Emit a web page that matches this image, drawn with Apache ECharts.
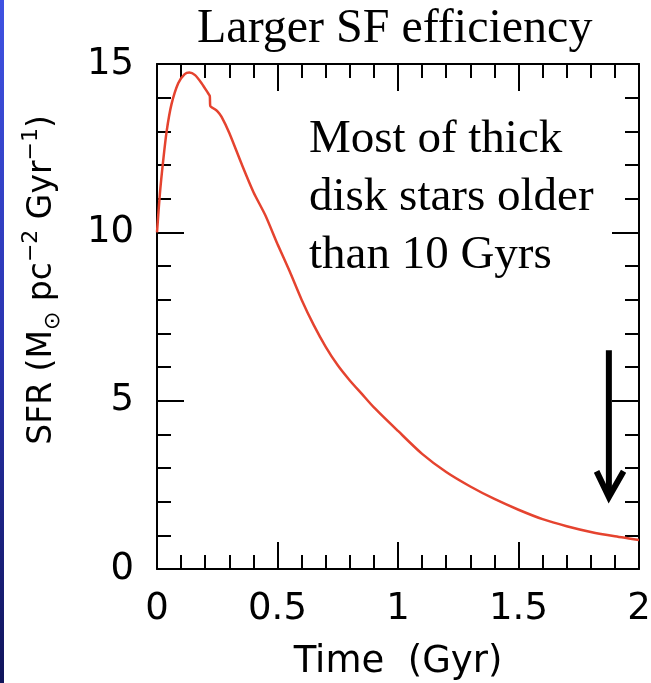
<!DOCTYPE html>
<html>
<head>
<meta charset="utf-8">
<script src="https://cdn.jsdelivr.net/npm/echarts@6/dist/echarts.min.js"></script>
<style>
html, body { margin: 0; padding: 0; background: #fff; }
#main { width: 651px; height: 683px; }
</style>
</head>
<body>
<div id="main"></div>
<script>
// star formation rate vs time
var timeGyr = [0, 0.012, 0.026, 0.04, 0.06, 0.088, 0.115, 0.134, 0.158, 0.185, 0.212, 0.219,
  0.221, 0.235, 0.25, 0.268, 0.3, 0.35, 0.4, 0.45, 0.5, 0.55, 0.6, 0.65, 0.7, 0.75, 0.8,
  0.85, 0.9, 1.0, 1.1, 1.2, 1.3, 1.4, 1.5, 1.6, 1.7, 1.8, 1.9, 2.0];
var sfr = [10.0, 11.15, 12.15, 13.0, 13.8, 14.43, 14.70, 14.75, 14.67, 14.43, 14.13, 14.05,
  13.75, 13.68, 13.6, 13.43, 12.95, 12.05, 11.2, 10.5, 9.65, 8.85, 8.0, 7.25, 6.6, 6.05, 5.6,
  5.2, 4.8, 4.1, 3.42, 2.88, 2.45, 2.08, 1.76, 1.48, 1.27, 1.1, 0.97, 0.86];

// annotation arrow (data units)
var arrowShaft = [[1.875, 6.5], [1.875, 2.2]];
var arrowHead = [[1.824, 2.9], [1.875, 2.14], [1.936, 2.9]];

var titleText = 'Larger SF efficiency';
var noteText = 'Most of thick\ndisk stars older\nthan 10 Gyrs';

var chart = echarts.init(document.getElementById('main'));

function makeX(pos, showLabel) {
  return {
    type: 'value', position: pos, min: 0, max: 2, interval: 0.5,
    axisLine: { show: true, onZero: false, lineStyle: { color: '#000', width: 2 } },
    axisTick: { show: true, inside: true, length: 27, lineStyle: { color: '#000', width: 2 } },
    minorTick: { show: true, splitNumber: 5, length: 14, lineStyle: { color: '#000', width: 2 } },
    splitLine: { show: false },
    axisLabel: { show: showLabel, fontFamily: 'DejaVu Sans', fontSize: 37, color: '#000', margin: 22 },
    name: showLabel ? 'Time  (Gyr)' : '', nameLocation: 'middle', nameGap: 75,
    nameTextStyle: { fontFamily: 'DejaVu Sans', fontSize: 37, color: '#000' }
  };
}
function makeY(pos, showLabel) {
  return {
    type: 'value', position: pos, min: 0, max: 15, interval: 5,
    axisLine: { show: true, onZero: false, lineStyle: { color: '#000', width: 2 } },
    axisTick: { show: true, inside: true, length: 27, lineStyle: { color: '#000', width: 2 } },
    minorTick: { show: true, splitNumber: 5, length: 14, lineStyle: { color: '#000', width: 2 } },
    splitLine: { show: false },
    axisLabel: { show: showLabel, fontFamily: 'DejaVu Sans', fontSize: 37, color: '#000', margin: 23 }
  };
}

chart.setOption({
  backgroundColor: '#fff',
  animation: false,
  title: {
    text: titleText, left: 192, top: 0,
    textStyle: { fontFamily: 'Liberation Serif', fontSize: 48, fontWeight: 'normal', color: '#000' }
  },
  grid: { left: 157, right: 12, top: 64, bottom: 114, containLabel: false, outerBoundsMode: 'none' },
  xAxis: [makeX('bottom', true), makeX('top', false)],
  yAxis: [makeY('left', true), makeY('right', false)],
  graphic: [
    {
      type: 'rect', left: 0, top: 0, silent: true,
      shape: { width: 4, height: 683 },
      style: {
        fill: new echarts.graphic.LinearGradient(0, 0, 0, 1, [
          { offset: 0, color: '#3f52e2' }, { offset: 0.5, color: '#2a34b0' }, { offset: 1, color: '#10145a' }
        ])
      }
    },
    {
      type: 'text', left: 309, top: 111, silent: true,
      style: { text: noteText, font: '47px "Liberation Serif"', lineHeight: 58, fill: '#000' }
    },
    {
      type: 'text', x: 42, y: 280, rotation: Math.PI / 2, silent: true,
      style: {
        text: '{b|SFR (M}{s|⊙}{b| pc}{p|−2}{b| Gyr}{p|−1}{b|)}',
        align: 'center', verticalAlign: 'middle',
        rich: {
          b: { fontFamily: 'DejaVu Sans', fontSize: 33, color: '#000', lineHeight: 44, verticalAlign: 'middle' },
          s: { fontFamily: 'DejaVu Sans', fontSize: 22, color: '#000', lineHeight: 44, verticalAlign: 'bottom' },
          p: { fontFamily: 'DejaVu Sans', fontSize: 22, color: '#000', lineHeight: 44, verticalAlign: 'top' }
        }
      }
    }
  ],
  series: [
    {
      type: 'line', xAxisIndex: 0, yAxisIndex: 0,
      data: timeGyr.map(function (t, i) { return [t, sfr[i]]; }),
      showSymbol: false, symbol: 'none', smooth: 0.25,
      lineStyle: { color: '#e5432f', width: 2.5 }
    },
    {
      type: 'line', data: arrowShaft, symbol: 'none', silent: true,
      lineStyle: { color: '#000', width: 6, cap: 'butt' }
    },
    {
      type: 'line', data: arrowHead, symbol: 'none', silent: true,
      lineStyle: { color: '#000', width: 6, join: 'miter' }
    }
  ]
});
</script>
</body>
</html>
